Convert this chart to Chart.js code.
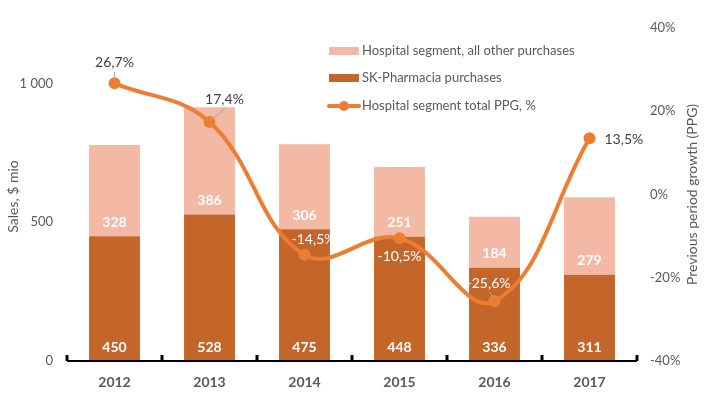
<!DOCTYPE html>
<html>
<head>
<meta charset="utf-8">
<script src="https://cdn.jsdelivr.net/npm/chart.js@4"></script>
<style>
  html, body { margin: 0; padding: 0; background: #fff; }
  #wrap { width: 713px; height: 399px; }
</style>
</head>
<body>
<div id="wrap"><canvas id="salesChart" width="713" height="399"></canvas></div>
<script>
// --- Data ---
const years = ['2012', '2013', '2014', '2015', '2016', '2017'];
const skPharmacia = [450, 528, 475, 448, 336, 311];
const otherPurchases = [328, 386, 306, 251, 184, 279];
const totalPPG = [26.7, 17.4, -14.5, -10.5, -25.6, 13.5];
const salesTicks = [0, 500, 1000];

// --- Style ---
const FONT = "Lato, 'Noto Sans', sans-serif";
const textGrey = '#595959';
const lightColor = '#F4B9A4';
const darkColor = '#C4652A';
const lineColor = '#ED7D31';

// where each PPG label sits relative to its point: dx, dy, align, colour, leader line
const ppgLabelStyle = [
    { dx: 0, dy: -21, align: 'center', color: '#404040', leader: [0, -11, 0, -5] },
    { dx: 15, dy: -23, align: 'center', color: '#404040', leader: [16, -14, 3, -3] },
    { dx: 9, dy: -15, align: 'center', color: '#ffffff' },
    { dx: 0, dy: 18, align: 'center', color: '#ffffff' },
    { dx: -6, dy: -18, align: 'center', color: '#ffffff', leader: [-5, -9, -1, -3] },
    { dx: 15, dy: 1, align: 'left', color: '#404040' }
];

function fmtPct(v) {
    return v.toFixed(1).replace('.', ',') + '%';
}

// Data labels for bars and line
const labelsPlugin = {
    id: 'labels',
    afterDatasetsDraw(chart) {
        const ctx = chart.ctx;
        ctx.save();
        ctx.textBaseline = 'middle';

        // bar labels, inside base
        [0, 1].forEach(di => {
            const meta = chart.getDatasetMeta(di);
            const values = chart.data.datasets[di].data;
            meta.data.forEach((bar, i) => {
                ctx.font = 'bold 14px ' + FONT;
                ctx.fillStyle = '#ffffff';
                ctx.textAlign = 'center';
                ctx.fillText(values[i], bar.x, bar.base - 14);
            });
        });

        // line labels
        const lineMeta = chart.getDatasetMeta(2);
        lineMeta.data.forEach((pt, i) => {
            const s = ppgLabelStyle[i];
            if (s.leader) {
                ctx.strokeStyle = '#a6a6a6';
                ctx.lineWidth = 1;
                ctx.beginPath();
                ctx.moveTo(pt.x + s.leader[0], pt.y + s.leader[1]);
                ctx.lineTo(pt.x + s.leader[2], pt.y + s.leader[3]);
                ctx.stroke();
            }
            ctx.font = '14px ' + FONT;
            ctx.fillStyle = s.color;
            ctx.textAlign = s.align;
            ctx.fillText(fmtPct(totalPPG[i]), pt.x + s.dx, pt.y + s.dy);
        });
        ctx.restore();
    }
};

// Axis line with inward ticks, axis titles and the legend
const decorPlugin = {
    id: 'decor',
    afterDraw(chart) {
        const ctx = chart.ctx;
        const area = chart.chartArea;
        const x = chart.scales.x;
        const step = x.getPixelForValue(1) - x.getPixelForValue(0);
        ctx.save();

        // x axis line + tick marks between categories
        ctx.strokeStyle = '#000000';
        ctx.lineWidth = 2;
        ctx.beginPath();
        ctx.moveTo(area.left, area.bottom);
        ctx.lineTo(area.right, area.bottom);
        ctx.stroke();
        ctx.lineWidth = 3;
        for (let i = 0; i <= years.length; i++) {
            const px = Math.round(x.getPixelForValue(0) - step / 2 + i * step);
            ctx.beginPath();
            ctx.moveTo(px, area.bottom);
            ctx.lineTo(px, area.bottom - 6);
            ctx.stroke();
        }

        // axis titles
        ctx.fillStyle = textGrey;
        ctx.font = '14px ' + FONT;
        ctx.textAlign = 'center';
        ctx.textBaseline = 'middle';
        const midY = (area.top + area.bottom) / 2;
        ctx.save();
        ctx.translate(13, midY + 2);
        ctx.rotate(-Math.PI / 2);
        ctx.fillText('Sales, $ mio', 0, 0);
        ctx.restore();
        ctx.save();
        ctx.translate(692, midY);
        ctx.rotate(-Math.PI / 2);
        ctx.fillText('Previous period growth (PPG)', 0, 0);
        ctx.restore();

        // legend
        const lx = 329;
        const items = [
            { text: 'Hospital segment, all other purchases', type: 'box', color: lightColor, y: 51 },
            { text: 'SK-Pharmacia purchases', type: 'box', color: darkColor, y: 78 },
            { text: 'Hospital segment total PPG, %', type: 'line', color: lineColor, y: 106 }
        ];
        ctx.font = '13px ' + FONT;
        ctx.textAlign = 'left';
        items.forEach(it => {
            if (it.type === 'box') {
                ctx.fillStyle = it.color;
                ctx.fillRect(lx, it.y - 4, 30, 8);
            } else {
                ctx.strokeStyle = it.color;
                ctx.lineWidth = 4;
                ctx.lineCap = 'round';
                ctx.beginPath();
                ctx.moveTo(lx, it.y);
                ctx.lineTo(lx + 30, it.y);
                ctx.stroke();
                ctx.fillStyle = it.color;
                ctx.beginPath();
                ctx.arc(lx + 15, it.y, 5, 0, Math.PI * 2);
                ctx.fill();
            }
            ctx.fillStyle = textGrey;
            ctx.fillText(it.text, lx + 33, it.y);
        });
        ctx.restore();
    }
};

new Chart(document.getElementById('salesChart'), {
    data: {
        labels: years,
        datasets: [
            {
                type: 'bar',
                label: 'SK-Pharmacia purchases',
                data: skPharmacia,
                backgroundColor: darkColor,
                stack: 's',
                yAxisID: 'y',
                order: 1,
                categoryPercentage: 0.8,
                barPercentage: 0.67
            },
            {
                type: 'bar',
                label: 'Hospital segment, all other purchases',
                data: otherPurchases,
                backgroundColor: lightColor,
                stack: 's',
                yAxisID: 'y',
                order: 2,
                categoryPercentage: 0.8,
                barPercentage: 0.67
            },
            {
                type: 'line',
                label: 'Hospital segment total PPG, %',
                data: totalPPG,
                borderColor: lineColor,
                backgroundColor: lineColor,
                borderWidth: 4,
                pointRadius: 6,
                pointBorderWidth: 0,
                tension: 0.4,
                yAxisID: 'y1',
                order: 0
            }
        ]
    },
    options: {
        responsive: false,
        animation: false,
        layout: { padding: { top: 28, left: 0, right: 0, bottom: 0 } },
        plugins: {
            legend: { display: false },
            tooltip: { enabled: false }
        },
        scales: {
            x: {
                stacked: true,
                grid: { display: false, drawTicks: false },
                border: { display: false },
                ticks: {
                    color: textGrey,
                    font: { family: FONT, size: 14, weight: 'bold' },
                    padding: 13
                },
                afterFit(scale) { scale.height = 38; }
            },
            y: {
                stacked: true,
                position: 'left',
                min: 0,
                max: 1200,
                grid: { display: false, drawTicks: false },
                border: { display: false },
                afterBuildTicks(scale) {
                    scale.ticks = salesTicks.map(v => ({ value: v }));
                },
                ticks: {
                    color: textGrey,
                    font: { family: FONT, size: 13 },
                    padding: 14,
                    callback: v => v === 1000 ? '1 000' : String(v)
                },
                afterFit(scale) { scale.width = 67; }
            },
            y1: {
                position: 'right',
                min: -40,
                max: 40,
                grid: { display: false, drawTicks: false },
                border: { display: false },
                ticks: {
                    stepSize: 20,
                    color: textGrey,
                    font: { family: FONT, size: 13 },
                    padding: 13,
                    callback: v => v + '%'
                },
                afterFit(scale) { scale.width = 76; }
            }
        }
    },
    plugins: [labelsPlugin, decorPlugin]
});
</script>
</body>
</html>
